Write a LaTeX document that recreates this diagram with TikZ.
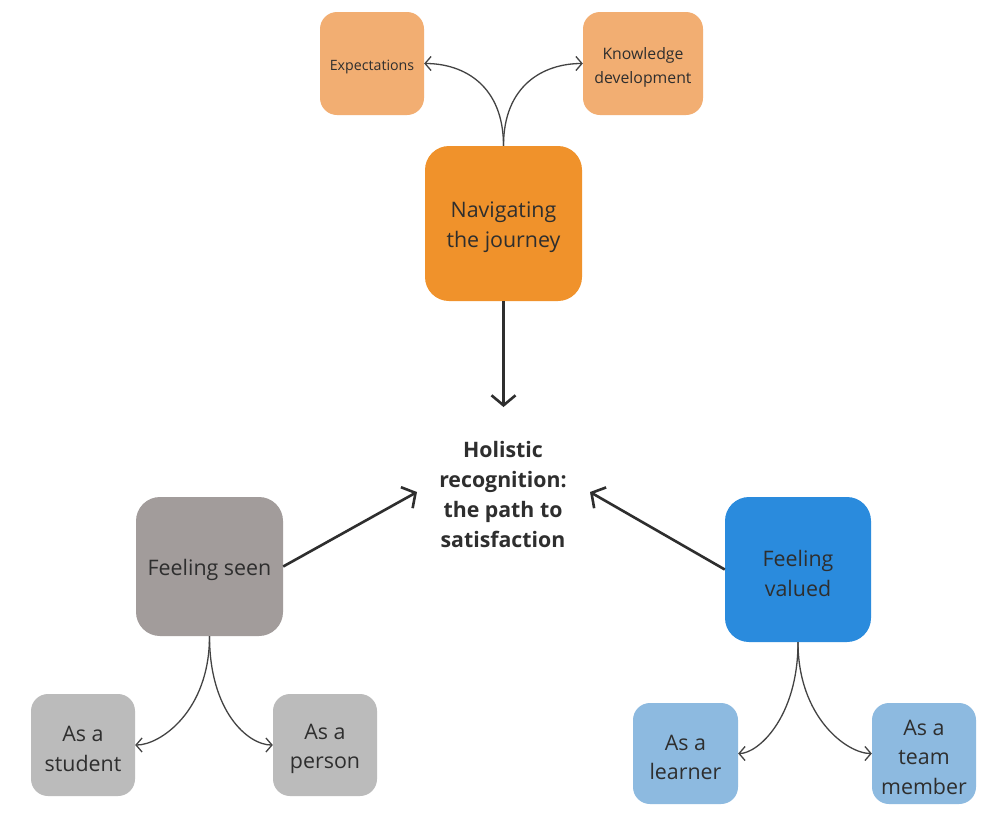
\documentclass[tikz,border=0pt]{standalone}
\usepackage{fontspec}
\setmainfont{Open Sans}
\usetikzlibrary{arrows.meta}
\definecolor{txt}{HTML}{2E2E2E}
\definecolor{orangeA}{HTML}{F0922B}
\definecolor{orangeB}{HTML}{F2AE72}
\definecolor{greyA}{HTML}{A29C9B}
\definecolor{greyB}{HTML}{BBBBBB}
\definecolor{blueA}{HTML}{2A8BDD}
\definecolor{blueB}{HTML}{8DBAE0}
\newcommand\dnstrut[1]{\rule{0pt}{#1}}
\tikzset{
  bigbox/.style={rectangle, rounded corners=24pt, align=center, text=txt, inner sep=0pt, font=\fontsize{21.4}{30}\selectfont},
  smallbox/.style={rectangle, rounded corners=17pt, align=center, text=txt, inner sep=0pt, font=\fontsize{21.4}{29.8}\selectfont},
  thinarrow/.style={draw=txt!90, line width=1.3pt, -{Straight Barb[length=6pt,width=14pt]}},
  thickarrow/.style={draw=txt, line width=2.6pt, -{Straight Barb[length=10pt,width=24pt]}},
}
\begin{document}
\begin{tikzpicture}[x=1pt,y=-1pt]
\useasboundingbox[fill=white] (0,0) rectangle (985,820);
% top
\node[smallbox, fill=orangeB, minimum width=104pt, minimum height=103pt, font=\fontsize{14.2}{20}\selectfont] (exp) at (372,63.5) {\dnstrut{16.5pt}Expectations};
\node[smallbox, fill=orangeB, minimum width=120pt, minimum height=103pt, font=\fontsize{15.8}{24}\selectfont] (know) at (643,63.5) {\dnstrut{19pt}Knowledge\\development};
\node[bigbox, fill=orangeA, minimum width=157pt, minimum height=155pt] (nav) at (503.5,223.5) {\dnstrut{24pt}Navigating\\the journey};
% center
\node[align=center, text=txt, font=\bfseries\fontsize{21.3}{30}\selectfont] (hol) at (503,495) {Holistic\\recognition:\\the path to\\satisfaction};
% left
\node[bigbox, fill=greyA, minimum width=147pt, minimum height=139pt] (seen) at (209.5,566.5) {\dnstrut{24pt}Feeling seen};
\node[smallbox, fill=greyB, minimum width=104pt, minimum height=102pt] (stu) at (83,745) {\dnstrut{23pt}As a\\student};
\node[smallbox, fill=greyB, minimum width=104pt, minimum height=102pt] (per) at (325,745) {\dnstrut{23pt}As a\\person};
% right
\node[bigbox, fill=blueA, minimum width=146pt, minimum height=145pt] (val) at (798,569.5) {\dnstrut{24pt}Feeling\\valued};
\node[smallbox, fill=blueB, minimum width=105pt, minimum height=101pt] (lea) at (685.5,753.5) {\dnstrut{23pt}As a\\learner};
\node[smallbox, fill=blueB, minimum width=104pt, minimum height=101pt] (team) at (924,753.5) {\dnstrut{23pt}As a\\team\\member};
% coordinates for arrow ends
\coordinate (navend) at (503.5,407);
\coordinate (seenend) at (417,492);
\coordinate (valend) at (590,492);
% connectors
\draw[thinarrow] (nav.north) .. controls ++(0,-60) and ++(40,0) .. (exp.east);
\draw[thinarrow] (nav.north) .. controls ++(0,-60) and ++(-40,0) .. (know.west);
\draw[thickarrow] (nav.south) -- (navend);
\draw[thickarrow] (seen.east) -- (seenend);
\draw[thickarrow] (val.west) -- (valend);
\draw[thinarrow] (seen.south) .. controls ++(0,75) and ++(25,0) .. (stu.east);
\draw[thinarrow] (seen.south) .. controls ++(0,75) and ++(-25,0) .. (per.west);
\draw[thinarrow] (val.south) .. controls ++(0,75) and ++(20,0) .. (lea.east);
\draw[thinarrow] (val.south) .. controls ++(0,75) and ++(-25,0) .. (team.west);
\end{tikzpicture}
\end{document}
